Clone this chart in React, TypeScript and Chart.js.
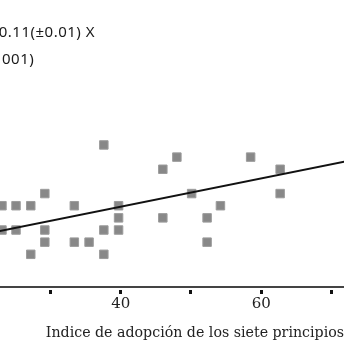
import React, { useEffect, useRef } from "react";
import { Chart, registerables } from "chart.js";

Chart.register(...registerables);

// Adoption index (x) and response (y) of each observation
const xValues = [
  37.6, 46.0, 48.0, 58.5, 62.7, 29.2, 50.1, 62.7, 23.1, 25.1, 27.2, 33.4, 39.7, 54.2,
  39.7, 46.0, 52.3, 23.1, 25.1, 29.2, 37.6, 39.7, 29.2, 33.4, 35.5, 52.3, 27.2, 37.6,
];
const yValues = [
  11, 9, 10, 10, 9, 7, 7, 7, 6, 6, 6, 6, 6, 6,
  5, 5, 5, 4, 4, 4, 4, 4, 3, 3, 3, 3, 2, 2,
];

// Fitted regression line Y = a + bX
const fitIntercept = 1.26;
const fitSlope = 0.1165;
const fitRange = [20, 75];

// Axis
const xMin = 22.82;
const xMax = 71.79;
const yMin = -0.69;
const yMax = 22.93;
const tickValues = [30, 40, 50, 60, 70];
const labeledTicks = [40, 60];
const xTitle = "Indice de adopción de los siete principios";
const equationLines = ["0.11(±0.01) X", "001)"];

const equationPlugin = {
  id: "equationText",
  afterDraw(chart: any) {
    const ctx = chart.ctx;
    ctx.save();
    ctx.fillStyle = "#1a1a1a";
    ctx.font = "15px 'Noto Sans'";
    (ctx as any).letterSpacing = "0.5px";
    ctx.textBaseline = "middle";
    ctx.textAlign = "right";
    ctx.fillText(equationLines[0], 95, 33);
    ctx.textAlign = "left";
    ctx.fillText(equationLines[1], 2, 60);
    ctx.restore();
  },
};

export default function App() {
  const canvasRef = useRef<HTMLCanvasElement | null>(null);

  useEffect(() => {
    const canvas = canvasRef.current;
    if (!canvas) return;
    const points = xValues.map((x, i) => ({ x, y: yValues[i] }));
    const fitLine = fitRange.map((x) => ({ x, y: fitIntercept + fitSlope * x }));

    const chart = new Chart(canvas, {
      type: "scatter",
      data: {
        datasets: [
          {
            type: "line",
            data: fitLine,
            borderColor: "#111",
            borderWidth: 2,
            pointRadius: 0,
            fill: false,
          } as any,
          {
            data: points,
            pointStyle: "rect",
            pointRadius: 6,
            backgroundColor: "#888888",
            borderColor: "#9c9c9c",
            borderWidth: 1,
          },
        ],
      },
      options: {
        responsive: false,
        animation: false,
        devicePixelRatio: 1,
        layout: { padding: 0, autoPadding: false },
        plugins: {
          legend: { display: false },
          tooltip: { enabled: false },
        },
        scales: {
          x: {
            type: "linear",
            min: xMin,
            max: xMax,
            afterBuildTicks: (scale: any) => {
              scale.ticks = tickValues.map((v) => ({ value: v }));
            },
            afterFit: (scale: any) => {
              scale.height = 57;
              scale.paddingLeft = 0;
              scale.paddingRight = 0;
            },
            ticks: {
              autoSkip: false,
              maxRotation: 0,
              padding: 1,
              color: "#222",
              font: { family: "'DejaVu Serif'", size: 15 },
              callback: (v: any) => (labeledTicks.includes(Number(v)) ? String(v) : ""),
            },
            grid: {
              drawOnChartArea: false,
              drawTicks: true,
              tickLength: 7,
              tickWidth: 3,
              tickColor: "#111",
              tickBorderDash: [0, 2, 5, 50],
            },
            border: { display: true, color: "#444", width: 2 },
            title: {
              display: true,
              text: xTitle,
              align: "end",
              color: "#222",
              font: { family: "'DejaVu Serif'", size: 14.2 },
              padding: { top: 0, bottom: 2 },
            },
          },
          y: {
            type: "linear",
            display: false,
            min: yMin,
            max: yMax,
          },
        },
      },
      plugins: [equationPlugin],
    });

    return () => chart.destroy();
  }, []);

  return (
    <div style={{ position: "absolute", left: 0, top: 0, width: 344, height: 344, background: "#fff" }}>
      <canvas ref={canvasRef} width={344} height={344} />
    </div>
  );
}
